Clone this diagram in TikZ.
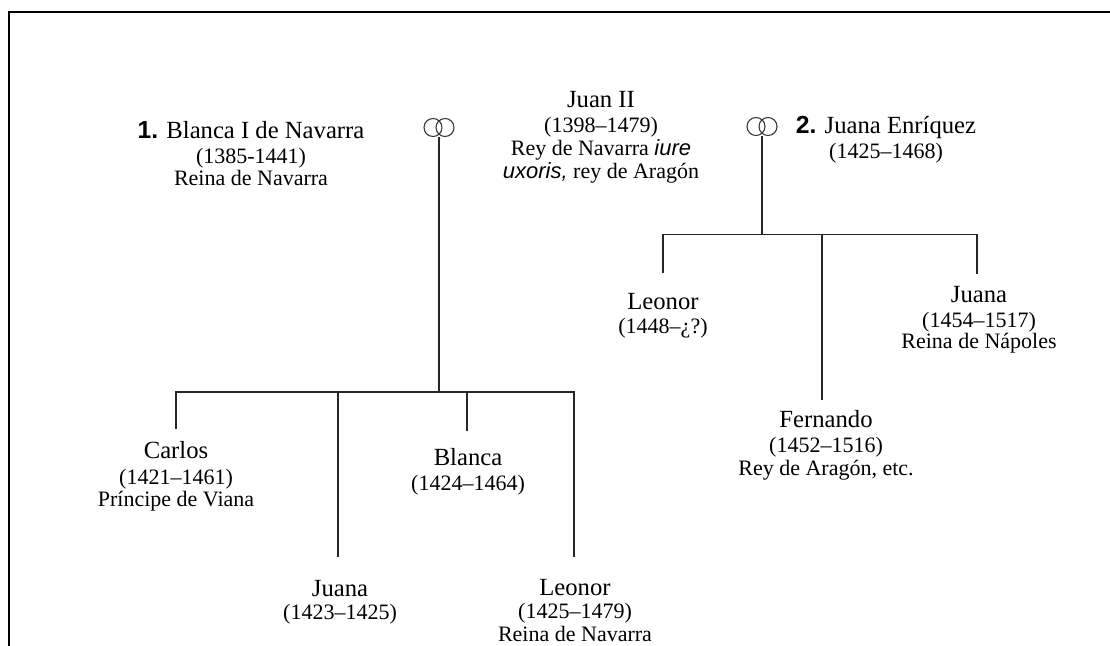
\documentclass[tikz,border=0pt]{standalone}
\usepackage{fontspec}
\setmainfont{Liberation Serif}
\newfontfamily\sansf{Liberation Sans}
\newcommand{\nmfont}{\fontsize{18.5}{18.75}\selectfont}
\newcommand{\dtfont}{\fontsize{16.5}{18.75}\selectfont}
\newcommand{\numb}[1]{{\sansf\bfseries #1}}
\newcommand{\lat}[1]{{\sansf\itshape #1}}
\begin{document}
\begin{tikzpicture}[x=0.75pt,y=-0.75pt,
  person/.style={anchor=base,inner sep=0pt,outer sep=0pt,font=\nmfont},
  conn/.style={draw=black!85,line width=0.8pt},
  ring/.style={circle,draw=black!80,line width=0.8pt,minimum size=13.5pt,inner sep=0pt},
  marriage/.style={inner sep=0pt,minimum width=23.25pt,minimum height=14.25pt},
  frame/.style={draw=black,line width=1.5pt}]
\useasboundingbox (0,0) rectangle (1110,646);
\draw[frame] (9,646) -- (9,12) -- (1110,12);

% marriage rings
\node[ring] (r1a) at (433,127.5) {};
\node[ring] (r1b) at (445,127.5) {};
\node[marriage] (mar1) at (439,127.5) {};
\node[ring] (r2a) at (756,126.5) {};
\node[ring] (r2b) at (768,126.5) {};
\node[marriage] (mar2) at (762,126.5) {};

% parents
\node[person] (blanca1) at (251,138) {\begin{tabular}[t]{@{}c@{}}\numb{1.} Blanca I de Navarra\\ \dtfont (1385-1441)\\[-1.875pt] \dtfont Reina de Navarra\end{tabular}};
\node[person] (juan) at (601,107) {\begin{tabular}[t]{@{}c@{}}Juan II\\ \dtfont (1398–1479)\\[-1.5pt] \dtfont Rey de Navarra \lat{iure}\\[-1.5pt] \dtfont \lat{uxoris,} rey de Aragón\end{tabular}};
\node[person] (juanaE) at (886,133) {\begin{tabular}[t]{@{}c@{}}\numb{2.} Juana Enríquez\\ \dtfont (1425–1468)\end{tabular}};

% children of first marriage
\node[person] (carlos) at (176,458) {\begin{tabular}[t]{@{}c@{}}Carlos\\[1pt] \dtfont (1421–1461)\\[-2.5pt] \dtfont Príncipe de Viana\end{tabular}};
\node[person] (blanca2) at (468,465) {\begin{tabular}[t]{@{}c@{}}Blanca\\ \dtfont (1424–1464)\end{tabular}};
\node[person] (juana1) at (340,596) {\begin{tabular}[t]{@{}c@{}}Juana\\[-1.5pt] \dtfont (1423–1425)\end{tabular}};
\node[person] (leonor1) at (575,595) {\begin{tabular}[t]{@{}c@{}}Leonor\\[-1.5pt] \dtfont (1425–1479)\\[-1.5pt] \dtfont Reina de Navarra\end{tabular}};

% children of second marriage
\node[person] (leonor2) at (663,309) {\begin{tabular}[t]{@{}c@{}}Leonor\\[-0.75pt] \dtfont (1448–¿?)\end{tabular}};
\node[person] (fernando) at (826,427) {\begin{tabular}[t]{@{}c@{}}Fernando\\ \dtfont (1452–1516)\\[-1pt] \dtfont Rey de Aragón, etc.\end{tabular}};
\node[person] (juana2) at (979,302) {\begin{tabular}[t]{@{}c@{}}Juana\\ \dtfont (1454–1517)\\[-2.5pt] \dtfont Reina de Nápoles\end{tabular}};

% connector ends
\coordinate (bar1) at (439,392);
\coordinate (tCarlos) at (176,429);
\coordinate (tJuana1) at (338,557);
\coordinate (tBlanca) at (467,431);
\coordinate (tLeonor1) at (574,557);
\coordinate (bar2) at (762,234.5);
\coordinate (tLeonor2) at (663,273);
\coordinate (tFernando) at (822,400);
\coordinate (tJuana2) at (977,274);

% connectors
\draw[conn] (mar1.south) -- (bar1);
\draw[conn] (tCarlos) |- (tLeonor1 |- bar1) -- (tLeonor1);
\draw[conn] (tJuana1 |- bar1) -- (tJuana1);
\draw[conn] (tBlanca |- bar1) -- (tBlanca);
\draw[conn] (mar2.south) -- (bar2);
\draw[conn] (tLeonor2) |- (tJuana2 |- bar2) -- (tJuana2);
\draw[conn] (tFernando |- bar2) -- (tFernando);
\end{tikzpicture}
\end{document}
